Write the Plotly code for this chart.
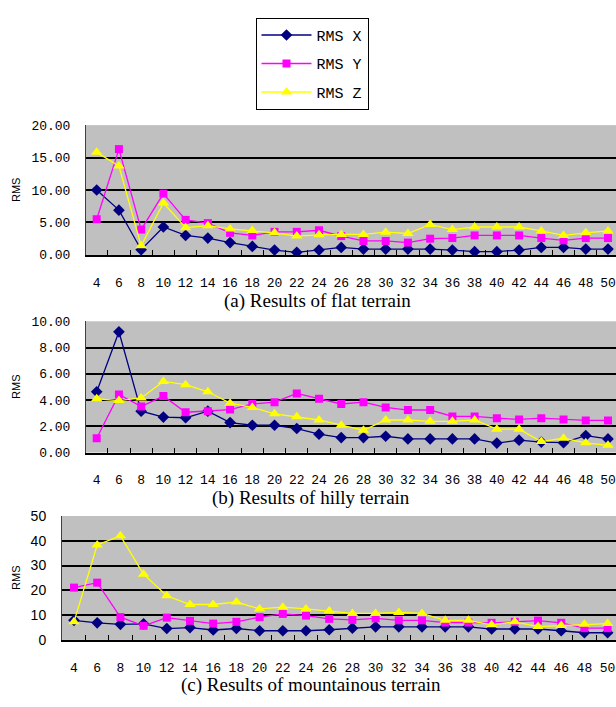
import plotly.graph_objects as go

W, H = 616, 707

categories = [str(v) for v in range(4, 51, 2)]

# (a) flat terrain
flat_x = [10.0, 6.9, 0.8, 4.3, 3.0, 2.6, 1.9, 1.3, 0.75, 0.4, 0.75, 1.15,
          0.9, 0.9, 0.9, 0.9, 0.75, 0.5, 0.5, 0.75, 1.15, 1.15, 0.9, 0.9]
flat_y = [5.5, 16.3, 3.9, 9.45, 5.4, 4.9, 3.4, 3.0, 3.55, 3.55, 3.8, 2.9,
          2.15, 2.15, 1.9, 2.5, 2.6, 3.0, 3.0, 3.0, 2.6, 2.25, 2.6, 2.6]
flat_z = [15.8, 13.7, 1.4, 8.0, 4.2, 4.5, 4.0, 3.75, 3.4, 2.9, 3.1, 3.15,
          3.15, 3.5, 3.3, 4.7, 3.9, 4.3, 4.3, 4.3, 3.7, 3.0, 3.4, 3.7]

# (b) hilly terrain
hilly_x = [4.63, 9.2, 3.15, 2.7, 2.65, 3.15, 2.28, 2.08, 2.08, 1.83, 1.4, 1.14,
           1.14, 1.24, 1.04, 1.04, 1.04, 1.04, 0.72, 0.94, 0.8, 0.75, 1.29, 1.04]
hilly_y = [1.09, 4.43, 3.5, 4.3, 3.07, 3.15, 3.27, 3.7, 3.84, 4.5, 4.1, 3.7,
           3.84, 3.44, 3.24, 3.24, 2.75, 2.75, 2.62, 2.52, 2.62, 2.52, 2.45, 2.45]
hilly_z = [4.1, 3.96, 4.16, 5.42, 5.17, 4.63, 3.76, 3.44, 2.95, 2.72, 2.48, 2.08,
           1.7, 2.48, 2.48, 2.38, 2.38, 2.48, 1.78, 1.78, 0.84, 1.09, 0.74, 0.55]

# (c) mountainous terrain
mount_x = [7.9, 6.9, 6.3, 6.5, 4.6, 5.0, 4.0, 4.6, 3.7, 3.7, 3.7, 4.1,
           4.75, 5.3, 5.3, 5.3, 5.3, 5.3, 4.4, 4.4, 4.4, 3.7, 2.9, 2.9]
mount_y = [21.1, 23.1, 9.2, 5.7, 9.0, 7.7, 6.6, 7.3, 9.2, 10.5, 9.8, 8.5,
           8.1, 8.7, 7.9, 7.9, 7.0, 7.0, 6.9, 7.3, 7.8, 6.9, 4.75, 4.75]
mount_z = [7.3, 38.3, 42.0, 26.5, 17.8, 14.3, 14.3, 15.3, 12.5, 13.2, 12.5, 11.7,
           10.7, 10.7, 11.1, 10.7, 7.9, 7.9, 6.1, 7.3, 5.4, 5.8, 6.3, 6.6]

series_names = ["RMS X", "RMS Y", "RMS Z"]
series_colors = ["#000080", "#FF00FF", "#FFFF00"]
series_symbols = ["diamond", "square", "triangle-up"]
series_sizes = [9, 8, 10]

captions = ["(a) Results of flat terrain", "(b) Results of hilly terrain",
            "(c) Results of mountainous terrain"]

panels = [
    dict(data=[flat_x, flat_y, flat_z], top=120, bottom=253, left=86,
         first=96.7, step=22.23, yr=[0, 20], dtick=5, fmt=".2f",
         tickfont=dict(family="Liberation Mono", size=13, color="black"),
         cap_y=300, cap_x=317),
    dict(data=[hilly_x, hilly_y, hilly_z], top=321, bottom=455.5, left=86,
         first=96.7, step=22.23, yr=[0, 10], dtick=2, fmt=".2f",
         tickfont=dict(family="Liberation Mono", size=13, color="black"),
         cap_y=502, cap_x=311),
    dict(data=[mount_x, mount_y, mount_z], top=520.5, bottom=647.5, left=62,
         first=74, step=23.2, yr=[0, 50], dtick=10, fmt="d",
         tickfont=dict(family="Liberation Sans", size=14, color="black"),
         cap_y=694, cap_x=311),
]

fig = go.Figure()
layout = dict(width=W, height=H, autosize=False,
              margin=dict(l=0, r=0, t=0, b=0),
              paper_bgcolor="white", plot_bgcolor="#C0C0C0",
              annotations=[])

for i, p in enumerate(panels):
    n = "" if i == 0 else str(i + 1)
    for k in range(3):
        fig.add_trace(go.Scatter(
            x=categories, y=p["data"][k], name=series_names[k],
            mode="lines+markers", xaxis="x" + n, yaxis="y" + n,
            line=dict(color=series_colors[k], width=1.3),
            marker=dict(symbol=series_symbols[k], size=series_sizes[k],
                        color=series_colors[k], line=dict(width=0)),
            legendgroup=series_names[k], showlegend=(i == 0)))
    r0 = -(p["first"] - p["left"]) / p["step"]
    r1 = r0 + (W - p["left"]) / p["step"]
    layout["xaxis" + n] = dict(
        domain=[p["left"] / W, 1], anchor="y" + n, type="category",
        range=[r0, r1], showgrid=False, showline=True, linecolor="black",
        linewidth=2, ticks="inside", tickson="boundaries", ticklen=5,
        tickcolor="black", tickwidth=1, ticklabelstandoff=14, tickangle=0,
        tickfont=dict(family="Liberation Mono", size=13, color="black"))
    layout["yaxis" + n] = dict(
        domain=[1 - p["bottom"] / H, 1 - p["top"] / H], anchor="x" + n,
        range=p["yr"], dtick=p["dtick"], tickformat=p["fmt"],
        showgrid=True, gridcolor="black", gridwidth=1.5,
        zeroline=True, zerolinecolor="black", zerolinewidth=2,
        showline=True, linecolor="#404040", linewidth=1,
        ticks="", ticklabelstandoff=12, tickfont=p["tickfont"])
    layout["annotations"].append(dict(
        text=captions[i], xref="paper", yref="paper",
        x=p["cap_x"] / W, y=1 - p["cap_y"] / H, xanchor="center",
        yanchor="middle", showarrow=False,
        font=dict(family="Liberation Serif", size=19, color="black")))
    layout["annotations"].append(dict(
        text="RMS", xref="paper", yref="paper", textangle=-90,
        x=16 / W, y=1 - (p["top"] + p["bottom"]) / 2 / H, xanchor="center",
        yanchor="middle", showarrow=False,
        font=dict(family="Liberation Sans", size=11, color="black")))

layout["legend"] = dict(
    x=312 / W, xanchor="center", y=1 - 10 / H, yanchor="top",
    bgcolor="white", bordercolor="black", borderwidth=1,
    font=dict(family="Liberation Mono", size=15, color="black"),
    itemwidth=50, tracegroupgap=6, orientation="v")

fig.update_layout(**layout)
fig.write_html("out.html")
